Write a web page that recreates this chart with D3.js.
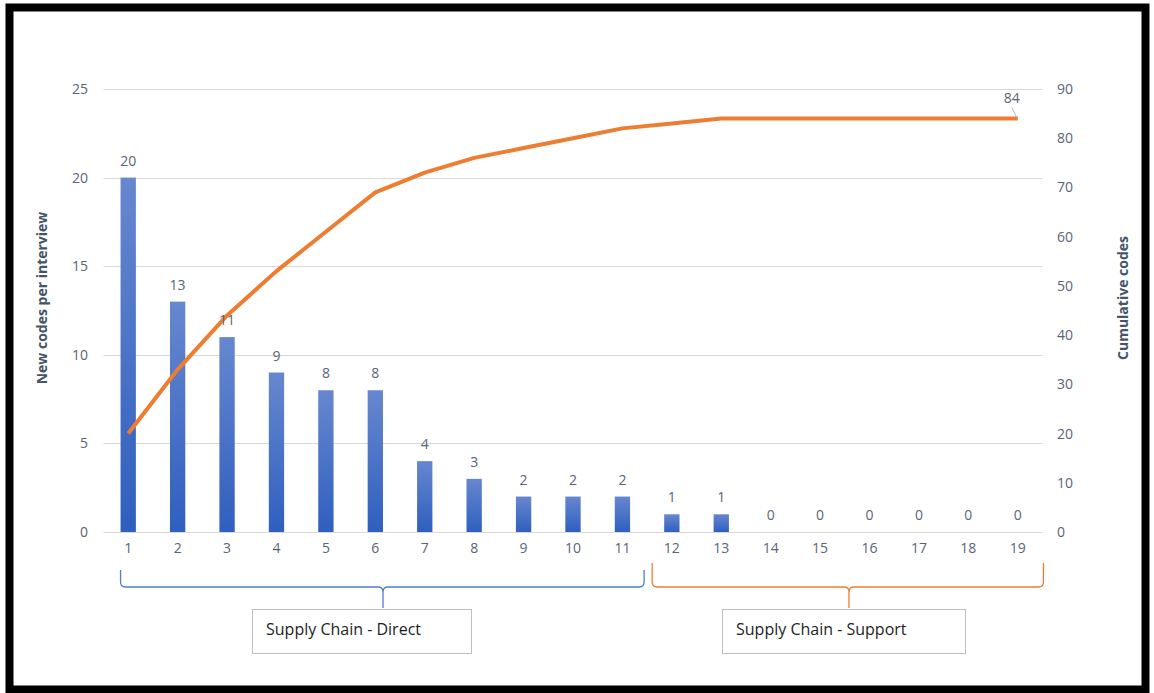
<!DOCTYPE html>
<html>
<head>
<meta charset="utf-8">
<script src="https://cdn.jsdelivr.net/npm/d3@7"></script>
<style>
  body { margin: 0; background: #fff; }
  svg { display: block; }
  text { font-family: "Open Sans", "Noto Sans", sans-serif; }
</style>
</head>
<body>
<svg id="chart" width="1154" height="693"></svg>
<script>
// interview numbers
var interviews = d3.range(1, 20);
// new codes found per interview (bars)
var newCodes = [20, 13, 11, 9, 8, 8, 4, 3, 2, 2, 2, 1, 1, 0, 0, 0, 0, 0, 0];
// running total of codes (line)
var cumulative = [20, 33, 44, 53, 61, 69, 73, 76, 78, 80, 82, 83, 84, 84, 84, 84, 84, 84, 84];
var leftTicks = [0, 5, 10, 15, 20, 25];
var rightTicks = [0, 10, 20, 30, 40, 50, 60, 70, 80, 90];
var groupNames = ["Supply Chain - Direct", "Supply Chain - Support"];
var groupFrom = [1, 12];
var groupTo = [11, 19];

var svg = d3.select("#chart");
var labelColor = "#5a6478";
var titleColor = "#44546a";

// frame
svg.append("rect")
    .attr("x", 9.5).attr("y", 7.5).attr("width", 1136).attr("height", 682)
    .attr("fill", "none").attr("stroke", "#000").attr("stroke-width", 8);

var x = d3.scaleBand()
    .domain(interviews)
    .range([103.5, 1042.5])
    .paddingInner(0.69)
    .paddingOuter(0.345);

var yLeft = d3.scaleLinear().domain([0, 25]).range([532, 89]);
var yRight = d3.scaleLinear().domain([0, 90]).range([532, 89]);

// gridlines
svg.append("g")
    .selectAll("line")
    .data(leftTicks)
    .enter()
    .append("line")
    .attr("x1", 103.5).attr("x2", 1042.5)
    .attr("y1", d => Math.round(yLeft(d)) + 0.5)
    .attr("y2", d => Math.round(yLeft(d)) + 0.5)
    .attr("stroke", "#d9d9d9")
    .attr("stroke-width", 1);

// left axis
svg.append("g")
    .attr("transform", "translate(93,0)")
    .call(d3.axisLeft(yLeft).tickValues(leftTicks).tickSize(0).tickPadding(5))
    .call(g => g.select(".domain").remove())
    .selectAll("text")
    .attr("fill", labelColor)
    .style("font-size", "14px")
    .style("font-family", "'Open Sans', sans-serif");

// right axis
svg.append("g")
    .attr("transform", "translate(1052,0)")
    .call(d3.axisRight(yRight).tickValues(rightTicks).tickSize(0).tickPadding(5))
    .call(g => g.select(".domain").remove())
    .selectAll("text")
    .attr("fill", labelColor)
    .style("font-size", "14px")
    .style("font-family", "'Open Sans', sans-serif");

// x axis labels
svg.append("g")
    .attr("transform", "translate(0,543)")
    .call(d3.axisBottom(x).tickSize(0).tickPadding(0))
    .call(g => g.select(".domain").remove())
    .selectAll("text")
    .attr("fill", labelColor)
    .style("font-size", "14px")
    .style("font-family", "'Open Sans', sans-serif");

// bar gradient
var grad = svg.append("defs")
    .append("linearGradient")
    .attr("id", "barGrad")
    .attr("x1", 0).attr("y1", 0).attr("x2", 0).attr("y2", 1);
grad.append("stop").attr("offset", "0%").attr("stop-color", "#6787cf");
grad.append("stop").attr("offset", "100%").attr("stop-color", "#2f5fbf");

var barData = interviews.map((d, i) => ({ n: d, v: newCodes[i] }));

svg.append("g")
    .selectAll("rect")
    .data(barData.filter(d => d.v > 0))
    .enter()
    .append("rect")
    .attr("x", d => x(d.n))
    .attr("width", x.bandwidth())
    .attr("y", d => yLeft(d.v))
    .attr("height", d => yLeft(0) - yLeft(d.v))
    .attr("fill", "url(#barGrad)");

// cumulative line
var line = d3.line()
    .x((d, i) => x(interviews[i]) + x.bandwidth() / 2)
    .y(d => yRight(d));

svg.append("path")
    .datum(cumulative)
    .attr("d", line)
    .attr("fill", "none")
    .attr("stroke", "#ed7d31")
    .attr("stroke-width", 4)
    .attr("stroke-linejoin", "round");

// bar value labels (on top of the line)
svg.append("g")
    .selectAll("text")
    .data(barData)
    .enter()
    .append("text")
    .attr("x", d => x(d.n) + x.bandwidth() / 2)
    .attr("y", d => yLeft(d.v) - 12)
    .attr("text-anchor", "middle")
    .attr("fill", labelColor)
    .style("font-size", "14px")
    .text(d => d.v);

// label on the last point with its leader line
var lastX = x(interviews[18]) + x.bandwidth() / 2;
var lastY = yRight(cumulative[18]);
svg.append("line")
    .attr("x1", lastX - 6).attr("y1", lastY - 11)
    .attr("x2", lastX - 1).attr("y2", lastY - 1)
    .attr("stroke", "#a6b4c8").attr("stroke-width", 1);
svg.append("text")
    .attr("x", lastX - 6).attr("y", lastY - 16)
    .attr("text-anchor", "middle")
    .attr("fill", labelColor)
    .style("font-size", "14px")
    .text(cumulative[18]);

// axis titles
svg.append("text")
    .attr("transform", "translate(47,298) rotate(-90)")
    .attr("text-anchor", "middle")
    .attr("fill", titleColor)
    .style("font-size", "14px")
    .style("font-weight", "bold")
    .text("New codes per interview");

svg.append("text")
    .attr("transform", "translate(1128,298) rotate(-90)")
    .attr("text-anchor", "middle")
    .attr("fill", titleColor)
    .style("font-size", "14px")
    .style("font-weight", "bold")
    .text("Cumulative codes");

// braces and group boxes
var braceColors = ["#4f7ccf", "#ed7d31"];
var braceLeft = [x(groupFrom[0]), x(groupFrom[1]) - 12];
var braceRight = [x(groupTo[0]) + x.bandwidth() + 14, x(groupTo[1]) + x.bandwidth() + 18];
var braceTop = [570, 563];
var braceMid = [383, 849];
var boxX = [252, 722];
var boxW = [219, 243];

function bracePath(x0, x1, xm, top) {
    var yb = 587, r = 5, tip = 608;
    return "M" + x0 + "," + top +
        " L" + x0 + "," + (yb - r) +
        " Q" + x0 + "," + yb + " " + (x0 + r) + "," + yb +
        " L" + (xm - r) + "," + yb +
        " Q" + xm + "," + yb + " " + xm + "," + (yb + r) +
        " L" + xm + "," + tip +
        " M" + xm + "," + (yb + r) +
        " Q" + xm + "," + yb + " " + (xm + r) + "," + yb +
        " L" + (x1 - r) + "," + yb +
        " Q" + x1 + "," + yb + " " + x1 + "," + (yb - r) +
        " L" + x1 + "," + top;
}

groupNames.forEach((name, i) => {
    svg.append("path")
        .attr("d", bracePath(braceLeft[i], braceRight[i], braceMid[i], braceTop[i]))
        .attr("fill", "none")
        .attr("stroke", braceColors[i])
        .attr("stroke-width", 1.3);

    svg.append("rect")
        .attr("x", boxX[i] + 0.5).attr("y", 609.5)
        .attr("width", boxW[i]).attr("height", 44)
        .attr("fill", "#fff")
        .attr("stroke", "#bfbfbf");

    svg.append("text")
        .attr("x", boxX[i] + 14).attr("y", 635)
        .attr("fill", "#1e1e1e")
        .style("font-size", "16px")
        .style("font-family", "'Open Sans', sans-serif")
        .text(name);
});
</script>
</body>
</html>
